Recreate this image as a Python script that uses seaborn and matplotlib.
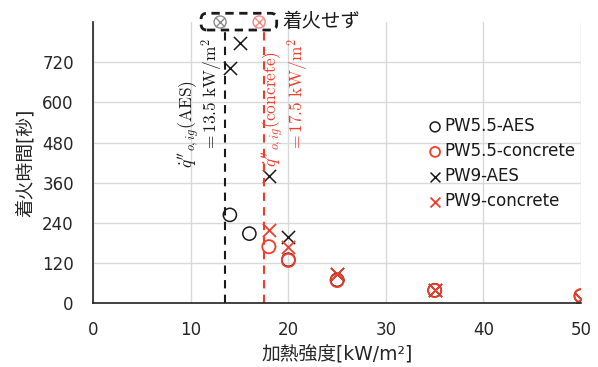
import numpy as np
import pandas as pd
import matplotlib
matplotlib.use('Agg')
import matplotlib.pyplot as plt
import seaborn as sns
from matplotlib.patches import FancyBboxPatch

# ignition data
pw55_aes_x = [14, 16, 20, 25, 35, 50]
pw55_aes_y = [264, 208, 130, 70, 39, 22]
pw55_con_x = [18, 20, 25, 35, 50]
pw55_con_y = [169, 128, 68, 38, 23]
pw9_aes_x = [14, 15, 18, 20, 25, 35, 50]
pw9_aes_y = [702, 776, 381, 198, 88, 40, 12]
pw9_con_x = [18, 20, 25, 35, 50]
pw9_con_y = [218, 167, 86, 39, 12]

# no ignition markers (drawn at the top edge)
noig_x = [13, 17]
noig_y = [840, 840]

crit_aes = 13.5
crit_con = 17.5

x_ticks = [0, 10, 20, 30, 40, 50]
y_ticks = [0, 120, 240, 360, 480, 600, 720]

RED = '#f23c2a'
BLACK = '#1a1a1a'

sns.set_theme(style='white')
plt.rcParams['font.family'] = ['DejaVu Sans', 'Noto Sans CJK JP']
plt.rcParams['mathtext.fontset'] = 'cm'

fig = plt.figure(figsize=(5.98, 3.67), dpi=100)
ax = fig.add_axes([0.156, 0.1736, 0.8156, 0.7665])

ax.set_xlim(0, 50)
ax.set_ylim(0, 840)
ax.set_xticks(x_ticks)
ax.set_yticks(y_ticks)
ax.grid(True, color='#d9d9d9', linewidth=1.0)
ax.set_axisbelow(True)

for s in ['top', 'right']:
    ax.spines[s].set_visible(False)
for s in ['left', 'bottom']:
    ax.spines[s].set_color('#222222')
    ax.spines[s].set_linewidth(1.2)

ax.tick_params(direction='in', length=6, width=1.0, color='#222222',
               labelsize=12, labelcolor='#262626')
ax.tick_params(axis='y', pad=14)
ax.tick_params(axis='x', pad=13)

# dashed critical heat flux lines
ax.plot([crit_aes, crit_aes], [0, 815], ls='--', color=BLACK, lw=1.5, dashes=(4, 3))
ax.plot([crit_con, crit_con], [0, 815], ls='--', color=RED, lw=1.5, dashes=(4, 3))

ms = 90
sns.scatterplot(x=pw55_aes_x, y=pw55_aes_y, ax=ax, marker='o', s=ms,
                facecolor='none', edgecolor=BLACK, linewidth=1.1, label='PW5.5-AES')
sns.scatterplot(x=pw55_con_x, y=pw55_con_y, ax=ax, marker='o', s=ms,
                facecolor='none', edgecolor=RED, linewidth=1.3, label='PW5.5-concrete')
sns.scatterplot(x=pw9_aes_x, y=pw9_aes_y, ax=ax, marker='x', s=ms,
                color=BLACK, linewidth=1.1, label='PW9-AES')
sns.scatterplot(x=pw9_con_x, y=pw9_con_y, ax=ax, marker='x', s=ms,
                color=RED, linewidth=1.3, label='PW9-concrete')

# not ignited
noig_cols = ['#8c8c8c', '#f28a7f']
for xx, yy, c in zip(noig_x, noig_y, noig_cols):
    sns.scatterplot(x=[xx], y=[yy], ax=ax, marker='o', s=75, facecolor='none',
                    edgecolor=c, linewidth=1.0, clip_on=False)
    sns.scatterplot(x=[xx], y=[yy], ax=ax, marker='x', s=45, color=c,
                    linewidth=1.0, clip_on=False)

box = FancyBboxPatch((11.05, 816), 18.8 - 11.05, 866 - 816,
                     boxstyle='round,pad=0,rounding_size=0.6',
                     mutation_aspect=29, fill=False, edgecolor=BLACK,
                     linewidth=2.0, linestyle=(0, (3, 2)), clip_on=False)
ax.add_patch(box)
ax.text(19.4, 842, '着火せず', ha='left', va='center', fontsize=14, color='#1a1a1a')

# rotated annotations
ax.text(9.8, 536, r"$\dot{q}''_{o,ig}(\mathrm{AES})$", rotation=90,
        ha='center', va='center', fontsize=12.5, color=BLACK)
ax.text(12.2, 621, r'$= 13.5\ \mathrm{kW/m^2}$', rotation=90,
        ha='center', va='center', fontsize=12.5, color=BLACK)
ax.text(18.45, 579, r"$\dot{q}''_{o,ig}(\mathrm{concrete})$", rotation=90,
        ha='center', va='center', fontsize=12.5, color=RED)
ax.text(21.0, 621, r'$= 17.5\ \mathrm{kW/m^2}$', rotation=90,
        ha='center', va='center', fontsize=12.5, color=RED)

ax.set_xlabel('加熱強度[kW/m²]', fontsize=13.5, color='#262626', labelpad=4)
ax.set_ylabel('着火時間[秒]', fontsize=13.5, color='#262626', labelpad=5)

leg = ax.legend(loc='upper left', bbox_to_anchor=(0.67, 0.685), frameon=False,
                fontsize=12, handletextpad=0.05, handlelength=1.0,
                labelspacing=0.42, markerscale=0.75, borderaxespad=0)
for t in leg.get_texts():
    t.set_color('#1a1a1a')

fig.savefig('out.png', dpi=100)
